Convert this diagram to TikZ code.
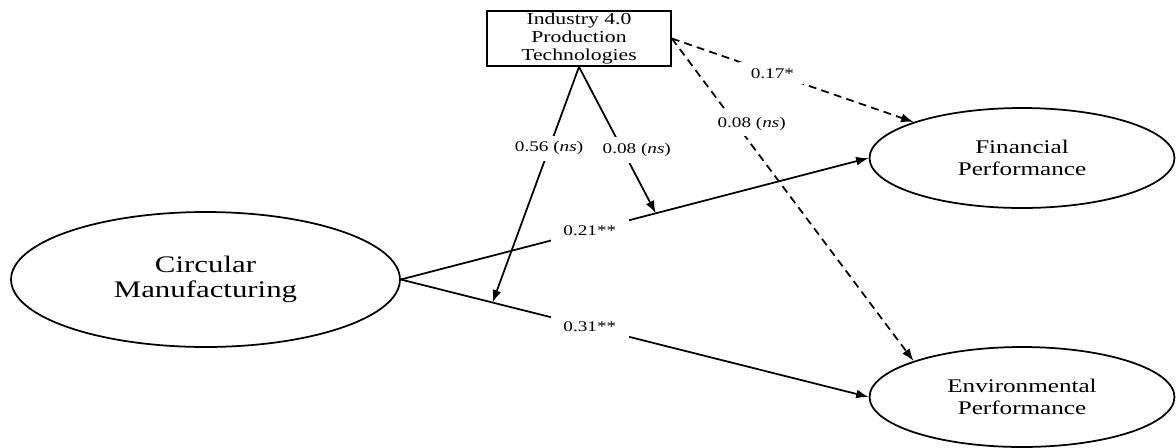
\documentclass[tikz,border=0pt]{standalone}
\usepackage{fontspec}
\setmainfont{Liberation Serif}
\newfontfamily\widefont[FakeStretch=1.3]{Liberation Serif}
\usetikzlibrary{shapes.geometric,arrows.meta}

\tikzset{
	latent/.style={draw, ellipse, line width=0.35mm, align=center, inner sep=1pt},
	construct/.style={draw, rectangle, line width=0.35mm, align=center, inner sep=0pt,
		minimum width=3.68cm, minimum height=1.1cm, font=\widefont\fontsize{9.5}{10.2}\selectfont},
	effect/.style={line width=0.35mm, -{Latex[length=2.5mm,width=1.8mm]}},
	moder/.style={effect, dash pattern=on 4.5pt off 3pt},
	coef/.style={fill=white, inner xsep=7pt, inner ysep=3.5pt, font=\widefont\fontsize{8.4}{9}\selectfont}
}

\begin{document}
\begin{tikzpicture}[x=0.02cm, y=-0.02cm]
		%%%%% START %%%%%
		\useasboundingbox (0,0) rectangle (1176,447);
		
		\node[construct] (tech) at (579,38.5) {Industry 4.0\\Production\\Technologies};
		
		\node[latent, minimum width=7.78cm, minimum height=2.7cm,
			font=\widefont\fontsize{13.5}{14.2}\selectfont] (circ) at (205.5,279.5) {Circular\\Manufacturing};
		\node[latent, minimum width=6.1cm, minimum height=2cm,
			font=\widefont\fontsize{11}{12.7}\selectfont] (fin) at (1022,158) {Financial\\Performance};
		\node[latent, minimum width=6.1cm, minimum height=2cm,
			font=\widefont\fontsize{11}{12.7}\selectfont] (env) at (1022,397) {Environmental\\Performance};
		
		% direct effects
		\draw[effect] (circ.east) -- coordinate[pos=0.545] (m2) node[coef, pos=0.404] {0.21**} (fin.west);
		\draw[effect] (circ.east) -- coordinate[pos=0.196] (m1) node[coef, pos=0.404] {0.31**} (env.west);
		
		% moderating effects
		\draw[effect] (tech.south) -- node[coef, pos=0.346] {0.56 (\textit{ns})} (m1);
		\draw[effect] (tech.south) -- node[coef, pos=0.57, xshift=0.28cm] {0.08 (\textit{ns})} (m2);
		
		% direct effects of the technologies
		\draw[moder] (tech.east) -- node[coef, pos=0.416] {0.17*} (fin.north west);
		\draw[moder] (tech.east) -- node[coef, pos=0.264, xshift=0.32cm] {0.08 (\textit{ns})} (env.north west);
		
		%%%%% END %%%%%
\end{tikzpicture}
\end{document}
